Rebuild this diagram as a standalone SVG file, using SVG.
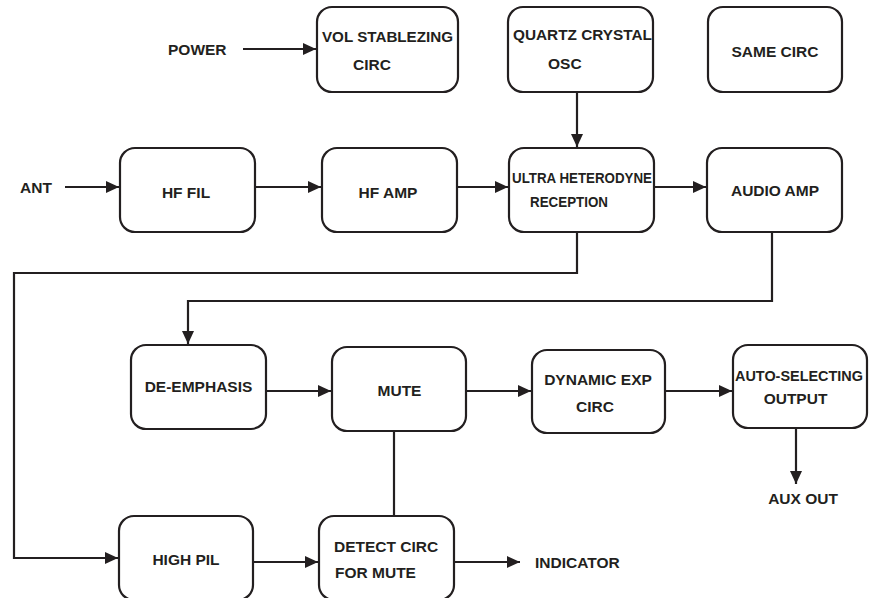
<svg xmlns="http://www.w3.org/2000/svg" width="881" height="598" viewBox="0 0 881 598">
<style>
.box{fill:#fff;stroke:#231f20;stroke-width:2.2}
.t{font-family:"Liberation Sans",Arial,sans-serif;font-weight:bold;font-size:15.5px;fill:#231f20}
.c{text-anchor:middle}
.ln{fill:none;stroke:#231f20;stroke-width:2.2}
</style>
<defs>
<marker id="ah" markerUnits="userSpaceOnUse" markerWidth="13" markerHeight="12" refX="13" refY="6" orient="auto">
<path d="M0,0 L13,6 L0,12 z" fill="#231f20"/>
</marker>
</defs>
<rect width="881" height="598" fill="#fff"/>
<g id="connectors">
<line class="ln" x1="243" y1="49" x2="316" y2="49" marker-end="url(#ah)"/>
<line class="ln" x1="577" y1="93" x2="577" y2="147" marker-end="url(#ah)"/>
<line class="ln" x1="65" y1="187" x2="119" y2="187" marker-end="url(#ah)"/>
<line class="ln" x1="255" y1="187" x2="321" y2="187" marker-end="url(#ah)"/>
<line class="ln" x1="457" y1="187" x2="508" y2="187" marker-end="url(#ah)"/>
<line class="ln" x1="655" y1="187" x2="706" y2="187" marker-end="url(#ah)"/>
<polyline class="ln" points="577,233 577,273 14,273 14,558 118,558" marker-end="url(#ah)"/>
<polyline class="ln" points="772,233 772,301 188,301 188,344" marker-end="url(#ah)"/>
<line class="ln" x1="266" y1="391" x2="331" y2="391" marker-end="url(#ah)"/>
<line class="ln" x1="466" y1="391" x2="531" y2="391" marker-end="url(#ah)"/>
<line class="ln" x1="665" y1="391" x2="732" y2="391" marker-end="url(#ah)"/>
<line class="ln" x1="796" y1="428" x2="796" y2="484" marker-end="url(#ah)"/>
<line class="ln" x1="394" y1="431" x2="394" y2="516"/>
<line class="ln" x1="253" y1="562" x2="318" y2="562" marker-end="url(#ah)"/>
<line class="ln" x1="454" y1="562" x2="520" y2="562" marker-end="url(#ah)"/>
</g>
<g id="labels">
<text class="t" x="168" y="55">POWER</text>
<text class="t" x="20" y="193">ANT</text>
<text class="t" x="803" y="504" text-anchor="middle">AUX OUT</text>
<text class="t" x="535" y="567.5">INDICATOR</text>
</g>
<g id="vol">
<rect class="box" x="317" y="7" width="141" height="85" rx="15"/>
<text class="t" x="322" y="41.5" textLength="131" lengthAdjust="spacingAndGlyphs">VOL STABLEZING</text>
<text class="t" x="353" y="70">CIRC</text>
</g>
<g id="quartz">
<rect class="box" x="508" y="7" width="145" height="85" rx="15"/>
<text class="t" x="513" y="40" textLength="139" lengthAdjust="spacingAndGlyphs">QUARTZ CRYSTAL</text>
<text class="t" x="548" y="69">OSC</text>
</g>
<g id="same">
<rect class="box" x="708" y="7" width="134" height="85" rx="15"/>
<text class="t c" x="775" y="56.5">SAME CIRC</text>
</g>
<g id="hffil">
<rect class="box" x="120" y="148" width="135" height="84" rx="15"/>
<text class="t c" x="186" y="198">HF FIL</text>
</g>
<g id="hfamp">
<rect class="box" x="322" y="148" width="135" height="84" rx="15"/>
<text class="t c" x="388" y="198">HF AMP</text>
</g>
<g id="ultra">
<rect class="box" x="509" y="148" width="145" height="84" rx="15"/>
<text class="t" x="512" y="183" textLength="140" lengthAdjust="spacingAndGlyphs">ULTRA HETERODYNE</text>
<text class="t" x="530" y="207" textLength="78" lengthAdjust="spacingAndGlyphs">RECEPTION</text>
</g>
<g id="audio">
<rect class="box" x="707" y="148" width="135" height="84" rx="15"/>
<text class="t c" x="775" y="196">AUDIO AMP</text>
</g>
<g id="deemph">
<rect class="box" x="131" y="345" width="135" height="84" rx="15"/>
<text class="t c" x="198.5" y="392">DE-EMPHASIS</text>
</g>
<g id="mute">
<rect class="box" x="332" y="347" width="134" height="84" rx="15"/>
<text class="t c" x="399.5" y="395.5">MUTE</text>
</g>
<g id="dynamic">
<rect class="box" x="532" y="350" width="133" height="83" rx="15"/>
<text class="t c" x="598" y="385">DYNAMIC EXP</text>
<text class="t c" x="595" y="412">CIRC</text>
</g>
<g id="auto">
<rect class="box" x="733" y="345" width="134" height="83" rx="15"/>
<text class="t" x="735" y="381" textLength="128" lengthAdjust="spacingAndGlyphs">AUTO-SELECTING</text>
<text class="t c" x="795.5" y="404">OUTPUT</text>
</g>
<g id="highpil">
<rect class="box" x="119" y="516" width="134" height="84" rx="15"/>
<text class="t c" x="186" y="565">HIGH PIL</text>
</g>
<g id="detect">
<rect class="box" x="319" y="516" width="135" height="84" rx="15"/>
<text class="t" x="334" y="552">DETECT CIRC</text>
<text class="t" x="335" y="578">FOR MUTE</text>
</g>
</svg>
